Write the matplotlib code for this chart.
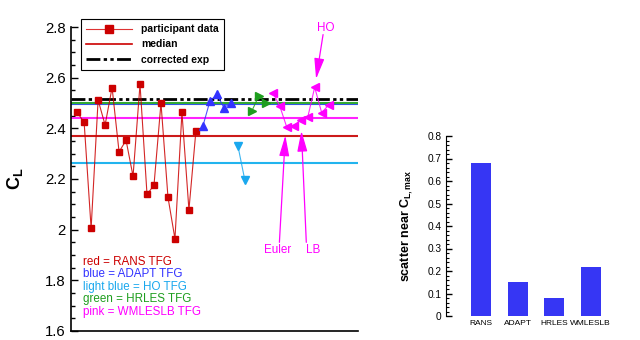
import matplotlib
matplotlib.use("Agg")
import matplotlib.pyplot as plt
from matplotlib.lines import Line2D
from matplotlib.ticker import MultipleLocator

plt.rcParams['font.family'] = ['Liberation Sans', 'DejaVu Sans']
plt.rcParams['mathtext.fontset'] = 'custom'
plt.rcParams['mathtext.rm'] = 'Liberation Sans'
plt.rcParams['mathtext.bf'] = 'Liberation Sans:bold'

# participant C_L values, one list per group
rans = [2.463, 2.424, 2.005, 2.512, 2.413, 2.561, 2.307, 2.353, 2.211,
        2.574, 2.139, 2.176, 2.500, 2.128, 1.964, 2.463, 2.078, 2.390]
adapt = [2.409, 2.507, 2.534, 2.482, 2.499]
ho = [2.332, 2.196]
hrles = [2.468, 2.528, 2.501]
wmleslb = [2.541, 2.488, 2.405, 2.410, 2.433, 2.443, 2.562, 2.462, 2.492]

# medians and experiment
median_rans = 2.371
median_adapt = 2.495
median_ho = 2.264
median_hrles = 2.500
median_wmleslb = 2.442
corrected_exp = 2.514

# scatter bar chart
bar_labels = ['RANS', 'ADAPT', 'HRLES', 'WMLESLB']
scatter = [0.68, 0.15, 0.08, 0.22]

RED = '#cc0000'
BLUE = '#3333ff'
LBLUE = '#1aa8ee'
GREEN = '#1f9e1f'
PINK = '#ff00ff'

groups = [
    (rans, RED, 's'),
    (adapt, BLUE, '^'),
    (ho, LBLUE, 'v'),
    (hrles, GREEN, '>'),
    (wmleslb, PINK, '<'),
]

fig = plt.figure(figsize=(6.4, 3.4), dpi=100)
ax = fig.add_axes([71/640, 1-331/340, 287/640, 304/340])
ax2 = fig.add_axes([445.7/640, 1-316/340, 174/640, 180/340])

# median lines first, then experiment on top
ax.axhline(median_ho, color='#22b4ee', lw=1.5)
ax.axhline(median_rans, color='#cc1a1a', lw=1.5)
ax.axhline(median_wmleslb, color='#ff22ff', lw=1.5)
ax.axhline(median_adapt, color='#3355ee', lw=1.5)
ax.axhline(median_hrles, color='#33aa33', lw=1.5)
ax.axhline(corrected_exp, color='black', lw=2,
           linestyle=(0, (5, 1.2, 1.2, 1.2, 1.2, 1.2)))

start = 1
for vals, col, mk in groups:
    xs = list(range(start, start + len(vals)))
    ax.plot(xs, vals, color=col, lw=0.8, alpha=0.85)
    ax.plot(xs, vals, linestyle='none', marker=mk, color=col,
            markersize=5 if mk == 's' else 6)
    start += len(vals)

ax.set_xlim(0.12, 41.2)
ax.set_ylim(1.6, 2.8)
ax.yaxis.set_minor_locator(MultipleLocator(0.05))
ax.set_yticks([1.6, 1.8, 2.0, 2.2, 2.4, 2.6, 2.8])
ax.set_yticklabels(['1.6', '1.8', '2', '2.2', '2.4', '2.6', '2.8'])
ax.set_xticks([])
ax.tick_params(axis='y', which='major', direction='in', length=5, width=1,
               labelsize=10.7, pad=4)
ax.tick_params(axis='y', which='minor', direction='in', length=3, width=1)
for s in ['top', 'right']:
    ax.spines[s].set_visible(False)
ax.spines['left'].set_linewidth(1.2)
ax.spines['bottom'].set_linewidth(1.2)
ax.set_ylabel(r'$\mathbf{C_L}$', fontsize=13)
ax.yaxis.set_label_coords(-0.16, 0.5)

# group key text
key = [('red = RANS TFG', RED), ('blue = ADAPT TFG', BLUE),
       ('light blue = HO TFG', LBLUE), ('green = HRLES TFG', GREEN),
       ('pink = WMLESLB TFG', PINK)]
for (txt, col), yv in zip(key, [1.873, 1.824, 1.775, 1.725, 1.676]):
    ax.text(1.8, yv, txt, color=col, fontsize=8.4, va='center', ha='left')

# arrows
arrow = dict(arrowstyle='-|>,head_length=0.9,head_width=0.22', color=PINK,
             lw=0.9, mutation_scale=14, shrinkA=0, shrinkB=0)
ax.annotate('', xy=(30.8, 2.372), xytext=(29.95, 1.95), arrowprops=arrow)
ax.annotate('', xy=(33.1, 2.39), xytext=(33.8, 1.95), arrowprops=arrow)
ax.annotate('', xy=(35.2, 2.595), xytext=(36.2, 2.77), arrowprops=arrow,
            annotation_clip=False)
ax.text(29.7, 1.92, 'Euler', color=PINK, fontsize=8.4, ha='center', va='center')
ax.text(34.8, 1.92, 'LB', color=PINK, fontsize=8.4, ha='center', va='center')
ax.text(36.6, 2.795, 'HO', color=PINK, fontsize=8.4, ha='center', va='center',
        clip_on=False)

handles = [
    Line2D([], [], color='#dd3333', lw=0.8, marker='s', markersize=6,
           markevery=[1], markerfacecolor=RED, markeredgecolor=RED),
    Line2D([], [], color=RED, lw=1.2),
    Line2D([], [], color='black', lw=2,
           linestyle=(0, (5, 1.2, 1.2, 1.2, 1.2, 1.2))),
]
leg = ax.legend(handles, ['participant data', 'median', 'corrected exp'],
                loc='upper left', bbox_to_anchor=(81/640, 1-19/340),
                bbox_transform=fig.transFigure, fancybox=False,
                edgecolor='black', framealpha=1, handlelength=4.4,
                handletextpad=0.9, borderpad=0.5, labelspacing=0.5,
                borderaxespad=0, prop={'weight': 'bold', 'size': 7.5})
leg.get_frame().set_linewidth(0.8)

# right chart
ax2.bar(range(1, len(scatter) + 1), scatter, width=0.55, color='#3636f4')
ax2.set_xlim(0.02, 4.8)
ax2.set_ylim(0, 0.8)
ax2.set_xticks(range(1, len(scatter) + 1))
ax2.set_xticklabels(bar_labels)
ax2.tick_params(axis='x', length=0, labelsize=6.0, pad=3)
ax2.yaxis.set_minor_locator(MultipleLocator(0.02))
ax2.set_yticks([0, 0.1, 0.2, 0.3, 0.4, 0.5, 0.6, 0.7, 0.8])
ax2.set_yticklabels(['0', '0.1', '0.2', '0.3', '0.4', '0.5', '0.6', '0.7', '0.8'])
ax2.tick_params(axis='y', which='major', direction='in', length=4, width=1,
                labelsize=7.3, pad=3)
ax2.tick_params(axis='y', which='minor', direction='in', length=2, width=0.8)
for s in ['top', 'right', 'bottom']:
    ax2.spines[s].set_visible(False)
ax2.set_ylabel(r'scatter near $\mathbf{C_{L,max}}$', fontsize=9, weight='bold')
ax2.yaxis.set_label_coords(-0.176, 0.5)

fig.savefig('out.png', dpi=100)
